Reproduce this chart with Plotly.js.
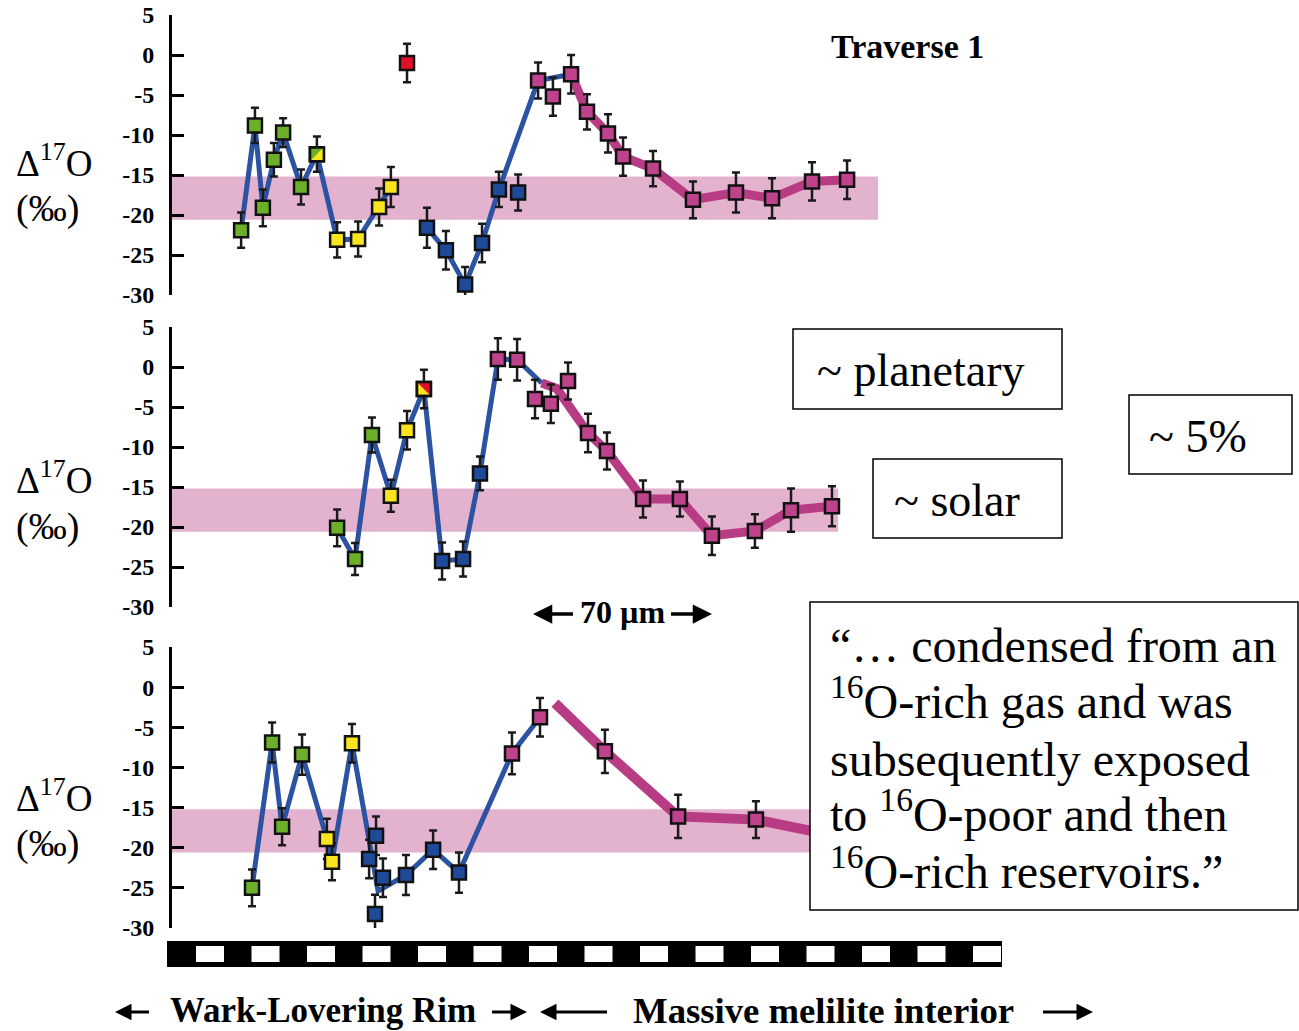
<!DOCTYPE html>
<html><head><meta charset="utf-8">
<script src="https://cdn.plot.ly/plotly-3.0.1.min.js"></script>
<style>html,body{margin:0;padding:0;background:#fff}</style>
</head><body><div id="chart" style="width:1299px;height:1031px"></div>
<script>
// ================= DATA (x: distance in µm from the rim edge, y: Δ17O in ‰) =================
// ---- Traverse 1 (top panel) ----
const t1GreenX  = [27.0, 32.4, 35.5, 39.8, 43.4, 50.4];
const t1GreenY  = [-21.9, -8.8, -19.1, -13.1, -9.7, -16.5];
const t1GreenE  = [2.2, 2.2, 2.3, 2.1, 1.8, 2.2];
const t1MixX    = [56.6];            // green / yellow mixed spot
const t1MixY    = [-12.4];
const t1MixE    = [2.2];
const t1YellowX = [64.5, 72.7, 80.9, 85.5];
const t1YellowY = [-23.1, -23.0, -19.0, -16.5];
const t1YellowE = [2.2, 2.2, 2.3, 2.5];
const t1RedX    = [91.8];
const t1RedY    = [-1.0];
const t1RedE    = [2.4];
const t1BlueX   = [99.6, 107.0, 114.5, 121.1, 127.7, 135.2];
const t1BlueY   = [-21.6, -24.4, -28.7, -23.5, -16.8, -17.2];
const t1BlueE   = [2.5, 2.4, 2.2, 2.4, 2.2, 2.25];
const t1PinkX   = [143.0, 148.8, 155.9, 162.1, 170.3, 176.2, 187.9, 203.5, 220.3, 234.4, 250.0, 263.7];
const t1PinkY   = [-3.2, -5.2, -2.4, -7.1, -9.8, -12.7, -14.2, -18.1, -17.2, -17.9, -15.8, -15.6];
const t1PinkE   = [2.25, 2.4, 2.4, 2.2, 2.4, 2.4, 2.2, 2.3, 2.5, 2.5, 2.4, 2.4];
// trend lines
const t1RimLineX = [27.0, 32.4, 35.5, 39.8, 43.4, 50.4, 56.6, 64.5, 72.7, 80.9, 85.5];
const t1RimLineY = [-21.9, -8.8, -19.1, -13.1, -9.7, -16.5, -12.4, -23.1, -23.0, -19.0, -16.5];
const t1MidLineX = [99.6, 107.0, 114.5, 121.1, 127.7, 143.0, 155.9];
const t1MidLineY = [-21.6, -24.4, -28.7, -23.5, -16.8, -3.2, -2.4];
const t1IntLineX = [155.9, 162.1, 170.3, 176.2, 187.9, 203.5, 220.3, 234.4, 250.0, 263.7];
const t1IntLineY = [-2.4, -7.1, -9.8, -12.7, -14.2, -18.1, -17.2, -17.9, -15.8, -15.6];

// ---- Traverse 2 (middle panel) ----
const t2GreenX  = [64.5, 71.5, 78.1];
const t2GreenY  = [-20.1, -24.0, -8.5];
const t2GreenE  = [2.3, 2.0, 2.2];
const t2YellowX = [85.5, 91.8];
const t2YellowY = [-16.1, -7.9];
const t2YellowE = [2.0, 2.4];
const t2MixX    = [98.4];            // yellow / red mixed spot
const t2MixY    = [-2.75];
const t2MixE    = [2.4];
const t2BlueX   = [105.5, 113.7, 120.3];
const t2BlueY   = [-24.25, -24.0, -13.3];
const t2BlueE   = [2.3, 2.2, 2.1];
const t2PinkX   = [127.3, 134.8, 141.8, 148.0, 154.7, 162.5, 169.9, 184.0, 198.4, 210.9, 227.7, 241.8, 257.8];
const t2PinkY   = [1.0, 0.9, -4.0, -4.6, -1.75, -8.25, -10.5, -16.5, -16.5, -21.1, -20.5, -17.9, -17.4];
const t2PinkE   = [2.6, 2.6, 2.4, 2.4, 2.3, 2.4, 2.3, 2.3, 2.2, 2.4, 2.1, 2.7, 2.5];
const t2RimLineX = [64.5, 71.5, 78.1, 85.5, 91.8, 98.4, 105.5, 113.7, 120.3, 127.3, 134.8, 144.4];
const t2RimLineY = [-20.1, -24.0, -8.5, -16.1, -7.9, -2.75, -24.25, -24.0, -13.3, 1.0, 0.9, -2.0];
const t2IntLineX = [144.4, 150.3, 162.5, 169.9, 184.0, 198.4, 210.9, 227.7, 241.8, 257.8];
const t2IntLineY = [-2.0, -2.7, -8.25, -10.5, -16.5, -16.5, -21.1, -20.5, -17.9, -17.4];

// ---- Traverse 3 (bottom panel) ----
const t3GreenX  = [31.25, 39.1, 43.0, 50.8];
const t3GreenY  = [-25.0, -6.9, -17.4, -8.4];
const t3GreenE  = [2.3, 2.5, 2.3, 2.5];
const t3YellowX = [60.5, 62.5, 70.3];
const t3YellowY = [-18.9, -21.75, -7.0];
const t3YellowE = [2.5, 2.3, 2.4];
const t3BlueX   = [79.7, 77.0, 79.3, 82.4, 91.4, 102.0, 112.1];
const t3BlueY   = [-18.5, -21.4, -28.25, -23.75, -23.4, -20.25, -23.1];
const t3BlueE   = [2.4, 2.4, 2.4, 2.4, 2.5, 2.4, 2.5];
const t3PinkX   = [132.8, 143.75, 169.1, 197.7, 228.1];
const t3PinkY   = [-8.25, -3.75, -8.0, -16.1, -16.5];
const t3PinkE   = [2.6, 2.4, 2.7, 2.7, 2.3];
const t3RimLineX = [31.25, 39.1, 43.0, 50.8, 60.5, 62.5, 70.3, 80.5, 91.4, 102.0, 112.1, 132.8, 143.75];
const t3RimLineY = [-25.0, -6.9, -17.4, -8.4, -18.9, -21.75, -7.0, -25.4, -23.4, -20.25, -23.1, -8.25, -3.75];
const t3IntLineX = [149.6, 169.1, 197.7, 228.1, 272.7];
const t3IntLineY = [-2.0, -8.0, -16.1, -16.5, -19.4];

// solar band (‰) and its extent (µm) in each panel
const solarBand = [-20.6, -15.2];
const bandEnd   = [275.8, 260.2, 265.0];

// axis ticks
const yTickVals = [5, 0, -5, -10, -15, -20, -25, -30];
const yTickText = ['5', '0', '-5', '-10', '-15', '-20', '-25', '-30'];

// texts
const traverseLabel = 'Traverse 1';
const yTitleTop = 'Δ<sup>17</sup>O';
const yTitleBottom = '(‰)';
const boxPlanetary = '~ planetary';
const boxSolar = '~ solar';
const box5 = '~ 5%';
const scaleLabel = '70 µm';
const quoteLines = ['“… condensed from an', '<sup>16</sup>O-rich gas and was', 'subsequently exposed',
                    'to <sup>16</sup>O-poor and then', '<sup>16</sup>O-rich reservoirs.”'];
const rimLabel = 'Wark-Lovering Rim';
const interiorLabel = 'Massive melilite interior';

// ================= STYLE / LAYOUT =================
const W = 1299, H = 1031;
const SERIF = 'Liberation Serif';
const AXIS_X = 172;            // pixel position of the y axes
const PX_PER_UM = 2.56;        // horizontal scale
const px = x => x / W;
const py = y => 1 - y / H;
const panels = [{top: 15, bottom: 295}, {top: 327, bottom: 607}, {top: 647, bottom: 928}];

const C = {
  green: '#6cb02a', yellow: '#f9e41e', red: '#e0102a', blue: '#1f4a9a', pink: '#be428c',
  blueLine: '#2c52a2', pinkLine: '#b83c83', band: '#e3b2cf', err: '#1a1a1a', edge: '#111'
};
const MS = 14, MLW = 2.5;

const traces = [];
function lineTr(x, y, color, width, n) {
  traces.push({type: 'scatter', mode: 'lines', x, y, xaxis: 'x' + n, yaxis: 'y' + n,
    line: {color, width}, hoverinfo: 'skip', showlegend: false, cliponaxis: false});
}
function markTr(x, y, e, fill, n) {
  traces.push({type: 'scatter', mode: 'markers', x, y, xaxis: 'x' + n, yaxis: 'y' + n,
    marker: {symbol: 'square', size: MS, color: fill, line: {color: C.edge, width: MLW}},
    error_y: {type: 'data', array: e, visible: true, color: C.err, thickness: 2.5, width: 4},
    showlegend: false, cliponaxis: false});
}
// half-coloured spot: overlay right-triangle + redraw outline
function halfTr(x, y, fill, symbol, n, panel) {
  const r = MS / 2 * 1.111;               // triangle legs = marker size
  const dx = 0.3 * r / PX_PER_UM;
  const pxPerUnit = (panel.bottom - panel.top) / 35;
  const dy = 0.3 * r / pxPerUnit * (symbol === 'triangle-se' ? -1 : 1);
  traces.push({type: 'scatter', mode: 'markers', x: x.map(v => v + dx), y: y.map(v => v + dy),
    xaxis: 'x' + n, yaxis: 'y' + n, hoverinfo: 'skip', showlegend: false, cliponaxis: false,
    marker: {symbol, size: r * 2, color: fill, line: {width: 0}}});
  traces.push({type: 'scatter', mode: 'markers', x, y, xaxis: 'x' + n, yaxis: 'y' + n,
    hoverinfo: 'skip', showlegend: false, cliponaxis: false,
    marker: {symbol: 'square', size: MS, color: 'rgba(0,0,0,0)', line: {color: C.edge, width: MLW}}});
}

// panel 1
lineTr(t1RimLineX, t1RimLineY, C.blueLine, 5, 1);
lineTr(t1MidLineX, t1MidLineY, C.blueLine, 5, 1);
lineTr(t1IntLineX, t1IntLineY, C.pinkLine, 9, 1);
markTr(t1GreenX, t1GreenY, t1GreenE, C.green, 1);
markTr(t1MixX, t1MixY, t1MixE, C.green, 1);
halfTr(t1MixX, t1MixY, C.yellow, 'triangle-se', 1, panels[0]);
markTr(t1YellowX, t1YellowY, t1YellowE, C.yellow, 1);
markTr(t1RedX, t1RedY, t1RedE, C.red, 1);
markTr(t1BlueX, t1BlueY, t1BlueE, C.blue, 1);
markTr(t1PinkX, t1PinkY, t1PinkE, C.pink, 1);
// panel 2
lineTr(t2RimLineX, t2RimLineY, C.blueLine, 5, 2);
lineTr(t2IntLineX, t2IntLineY, C.pinkLine, 9, 2);
markTr(t2GreenX, t2GreenY, t2GreenE, C.green, 2);
markTr(t2YellowX, t2YellowY, t2YellowE, C.yellow, 2);
markTr(t2MixX, t2MixY, t2MixE, C.yellow, 2);
halfTr(t2MixX, t2MixY, C.red, 'triangle-ne', 2, panels[1]);
markTr(t2BlueX, t2BlueY, t2BlueE, C.blue, 2);
markTr(t2PinkX, t2PinkY, t2PinkE, C.pink, 2);
// panel 3
lineTr(t3RimLineX, t3RimLineY, C.blueLine, 5, 3);
lineTr(t3IntLineX, t3IntLineY, C.pinkLine, 10, 3);
markTr(t3GreenX, t3GreenY, t3GreenE, C.green, 3);
markTr(t3YellowX, t3YellowY, t3YellowE, C.yellow, 3);
markTr(t3BlueX, t3BlueY, t3BlueE, C.blue, 3);
markTr(t3PinkX, t3PinkY, t3PinkE, C.pink, 3);

const xRange = [0, (W - AXIS_X) / PX_PER_UM];
const layout = {
  width: W, height: H, margin: {l: 0, r: 0, t: 0, b: 0},
  paper_bgcolor: '#fff', plot_bgcolor: 'rgba(0,0,0,0)', showlegend: false,
  font: {family: SERIF, color: '#000', size: 22},
  shapes: [], annotations: []
};
panels.forEach((p, i) => {
  const n = i + 1, s = n === 1 ? '' : String(n);
  layout['xaxis' + s] = {domain: [px(AXIS_X), 1], range: xRange, visible: false, fixedrange: true, anchor: 'y' + s};
  layout['yaxis' + s] = {domain: [py(p.bottom), py(p.top)], range: [-30, 5], anchor: 'x' + s,
    showline: true, linewidth: 3, linecolor: '#000', mirror: false,
    ticks: 'inside', ticklen: 12, tickwidth: 3, tickcolor: '#000',
    tickmode: 'array', tickvals: yTickVals, ticktext: yTickText, ticklabelstandoff: 10,
    tickfont: {family: SERIF, size: 24, color: '#000', weight: 'bold'},
    showgrid: false, zeroline: false, fixedrange: true};
  layout.shapes.push({type: 'rect', xref: 'x' + s, yref: 'y' + s, x0: 0, x1: bandEnd[i],
    y0: solarBand[0], y1: solarBand[1], fillcolor: C.band, line: {width: 0}, layer: 'below'});
  const yc = [160, 478, 795][i];
  layout.annotations.push({xref: 'paper', yref: 'paper', x: px(14), y: py(yc), xanchor: 'left', yanchor: 'middle',
    text: yTitleTop, showarrow: false, font: {family: SERIF, size: 37, color: '#000'}});
  layout.annotations.push({xref: 'paper', yref: 'paper', x: px(14), y: py(yc + 48), xanchor: 'left', yanchor: 'middle',
    text: yTitleBottom, showarrow: false, font: {family: SERIF, size: 38, color: '#000'}});
});

// boxes
function box(x0, y0, x1, y1) {
  layout.shapes.push({type: 'rect', xref: 'paper', yref: 'paper', x0: px(x0), x1: px(x1), y0: py(y1), y1: py(y0),
    fillcolor: '#fff', line: {color: '#000', width: 1.5}, layer: 'above'});
}
function txt(t, x, y, size, opts) {
  layout.annotations.push(Object.assign({xref: 'paper', yref: 'paper', x: px(x), y: py(y), text: t, showarrow: false,
    xanchor: 'center', yanchor: 'middle', font: {family: SERIF, size, color: '#000'}}, opts || {}));
}
function arrow(xHead, xTail, y, w) {
  layout.annotations.push({xref: 'paper', yref: 'paper', x: px(xHead), y: py(y), ax: xTail - xHead, ay: 0,
    axref: 'pixel', ayref: 'pixel', text: ' ', showarrow: true, arrowhead: 2, arrowsize: 1.1, arrowwidth: w,
    arrowcolor: '#000', font: {size: 10}});
}
box(793, 329, 1062, 409);  txt(boxPlanetary, 921, 370, 46);
box(873, 459, 1062, 538);  txt(boxSolar, 957, 500, 46);
box(1129, 395, 1292, 474); txt(box5, 1198, 436, 46);
box(810, 602, 1298, 910);
const qy = [645, 698, 759, 811, 868];
quoteLines.forEach((q, i) => txt(q, 828, qy[i], 48, {xanchor: 'left'}));

txt(traverseLabel, 907, 46, 34, {font: {family: SERIF, size: 34, color: '#000', weight: 'bold'}});

// 70 µm scale
txt(scaleLabel, 622, 612, 32, {font: {family: SERIF, size: 32, color: '#000', weight: 'bold'}});
arrow(533, 576, 614, 3.5);
arrow(712, 668, 614, 3.5);

// checkered scale bar
layout.shapes.push({type: 'rect', xref: 'paper', yref: 'paper', x0: px(167), x1: px(1002), y0: py(967), y1: py(941),
  fillcolor: '#000', line: {width: 0}, layer: 'above'});
for (let k = 0; k < 15; k++) {
  const xl = 196 + k * 55.5;
  layout.shapes.push({type: 'rect', xref: 'paper', yref: 'paper', x0: px(xl), x1: px(xl + 28), y0: py(962), y1: py(946),
    fillcolor: '#fff', line: {width: 0}, layer: 'above'});
}

// bottom labels
txt(rimLabel, 323, 1010, 35, {font: {family: SERIF, size: 35, color: '#000', weight: 'bold'}});
txt(interiorLabel, 823, 1010, 36.7, {font: {family: SERIF, size: 36.7, color: '#000', weight: 'bold'}});
arrow(115, 152, 1012, 3);
arrow(527, 489, 1012, 3);
arrow(540, 610, 1012, 3);
arrow(1093, 1040, 1012, 3);

Plotly.newPlot('chart', traces, layout, {staticPlot: true, displayModeBar: false});
</script>
</body></html>
